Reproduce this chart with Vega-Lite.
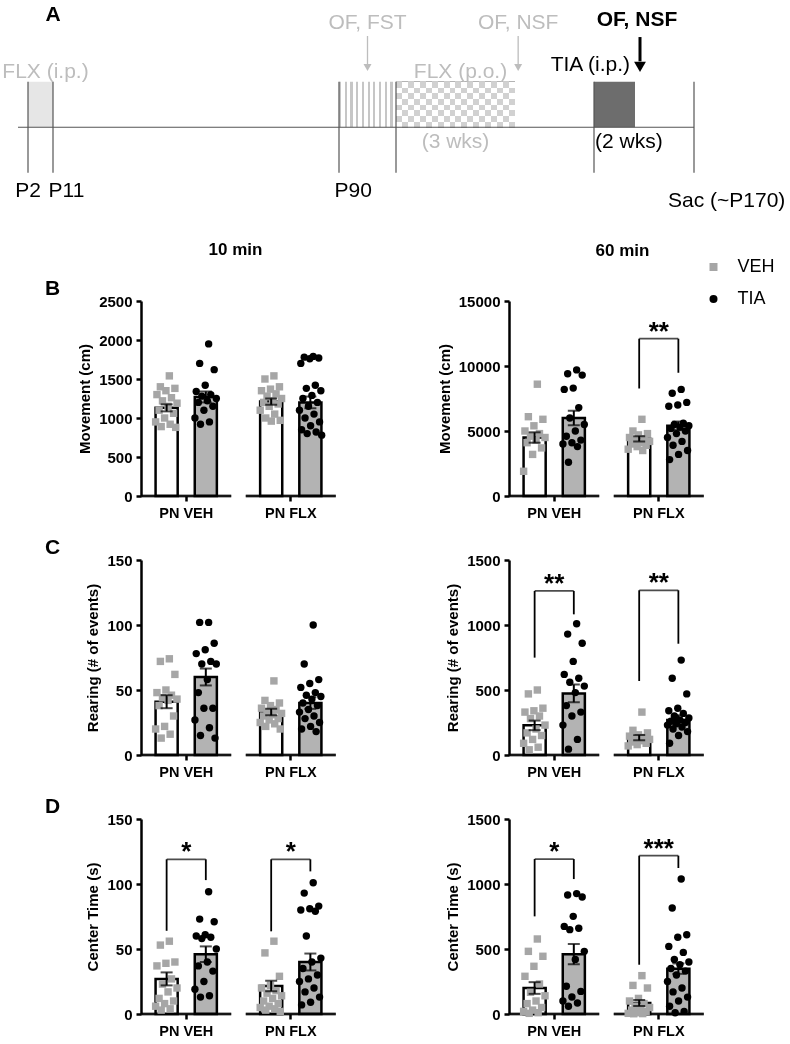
{
"$schema": "https://vega.github.io/schema/vega-lite/v6.json",
"padding": 0,
"background": "white",
"config": {
 "font": "Liberation Sans",
 "view": {"stroke": null},
 "title": {"font": "Liberation Sans", "color": "black"},
 "axis": {"domainColor": "black", "domainWidth": 2.5, "tickColor": "black", "tickWidth": 2.5, "tickSize": 5, "labelColor": "black", "labelFont": "Liberation Sans", "labelFontWeight": "bold", "labelFontSize": 15, "labelPadding": 4, "titleColor": "black", "titleFont": "Liberation Sans", "titleFontWeight": "bold", "titleFontSize": 15, "titlePadding": 6, "grid": false},
 "axisX": {"domain": false, "labelFontSize": 14.5, "labelPadding": 5, "labelAngle": 0},
 "legend": {"labelFont": "Liberation Sans", "labelColor": "black"}
},
"datasets": {
 "tl_periods": [{"kind": "fip", "day": 2, "end": 11}, {"kind": "fst", "day": 90, "end": 104}, {"kind": "fpo", "day": 104, "end": 125}, {"kind": "tia", "day": 150, "end": 164}],
 "tl_ticks": [{"day": 2}, {"day": 11}, {"day": 90}, {"day": 104}, {"day": 150}, {"day": 170}],
 "tl_line": [{"day": 0, "end": 170}],
 "tl_tests": [{"day": 97, "label": "OF, FST", "phase": "past"}, {"day": 126, "label": "OF, NSF", "phase": "past"}, {"day": 165, "label": "OF, NSF", "phase": "current"}],
 "tl_labels": [
  {"day": 6.5, "label": "FLX (i.p.)", "kind": "treat_past"},
  {"day": 114.5, "label": "FLX (p.o.)", "kind": "treat_past"},
  {"day": 164, "label": "TIA (i.p.)", "kind": "treat_now"},
  {"day": 114.5, "label": "(3 wks)", "kind": "dur_past"},
  {"day": 150, "label": "(2 wks)", "kind": "dur_now"},
  {"day": 2, "label": "P2", "kind": "age_c"},
  {"day": 11, "label": "P11", "kind": "age_l"},
  {"day": 90, "label": "P90", "kind": "age_l"},
  {"day": 170, "label": "Sac (~P170)", "kind": "sac"},
  {"day": 11, "label": "A", "kind": "panel"}
 ],
 "bars": [
  {"m": "mov10", "g": "PN VEH", "t": "VEH", "v": 1130, "sem": 45},
  {"m": "mov10", "g": "PN VEH", "t": "TIA", "v": 1270, "sem": 70},
  {"m": "mov10", "g": "PN FLX", "t": "VEH", "v": 1210, "sem": 40},
  {"m": "mov10", "g": "PN FLX", "t": "TIA", "v": 1200, "sem": 75},
  {"m": "mov60", "g": "PN VEH", "t": "VEH", "v": 4500, "sem": 400},
  {"m": "mov60", "g": "PN VEH", "t": "TIA", "v": 6000, "sem": 550},
  {"m": "mov60", "g": "PN FLX", "t": "VEH", "v": 4400, "sem": 200},
  {"m": "mov60", "g": "PN FLX", "t": "TIA", "v": 5400, "sem": 330},
  {"m": "rear10", "g": "PN VEH", "t": "VEH", "v": 41, "sem": 5},
  {"m": "rear10", "g": "PN VEH", "t": "TIA", "v": 60, "sem": 6.5},
  {"m": "rear10", "g": "PN FLX", "t": "VEH", "v": 33, "sem": 2.5},
  {"m": "rear10", "g": "PN FLX", "t": "TIA", "v": 40, "sem": 4.5},
  {"m": "rear60", "g": "PN VEH", "t": "VEH", "v": 228, "sem": 37},
  {"m": "rear60", "g": "PN VEH", "t": "TIA", "v": 474, "sem": 68},
  {"m": "rear60", "g": "PN FLX", "t": "VEH", "v": 133, "sem": 20},
  {"m": "rear60", "g": "PN FLX", "t": "TIA", "v": 269, "sem": 37},
  {"m": "ct10", "g": "PN VEH", "t": "VEH", "v": 27, "sem": 5},
  {"m": "ct10", "g": "PN VEH", "t": "TIA", "v": 46, "sem": 6},
  {"m": "ct10", "g": "PN FLX", "t": "VEH", "v": 21.5, "sem": 4},
  {"m": "ct10", "g": "PN FLX", "t": "TIA", "v": 40, "sem": 6.5},
  {"m": "ct60", "g": "PN VEH", "t": "VEH", "v": 200, "sem": 45},
  {"m": "ct60", "g": "PN VEH", "t": "TIA", "v": 460, "sem": 78},
  {"m": "ct60", "g": "PN FLX", "t": "VEH", "v": 85, "sem": 23},
  {"m": "ct60", "g": "PN FLX", "t": "TIA", "v": 349, "sem": 40}
 ],
 "brk": [
  {"m": "mov60", "g": "PN FLX", "left": 8270, "right": 9480, "top": 12100, "label": "**"},
  {"m": "rear60", "g": "PN VEH", "left": 749, "right": 1082, "top": 1262, "label": "**"},
  {"m": "rear60", "g": "PN FLX", "left": 569, "right": 856, "top": 1267, "label": "**"},
  {"m": "ct10", "g": "PN VEH", "left": 64, "right": 103, "top": 119, "label": "*"},
  {"m": "ct10", "g": "PN FLX", "left": 63.6, "right": 109.7, "top": 119, "label": "*"},
  {"m": "ct60", "g": "PN VEH", "left": 751, "right": 1038, "top": 1192, "label": "*"},
  {"m": "ct60", "g": "PN FLX", "left": 379, "right": 1123, "top": 1218, "label": "***"}
 ],
 "pts": [
  {"m":"mov10","g":"PN VEH","t":"VEH","v":1540},{"m":"mov10","g":"PN VEH","t":"VEH","v":1400},{"m":"mov10","g":"PN VEH","t":"VEH","v":1380},{"m":"mov10","g":"PN VEH","t":"VEH","v":1350},{"m":"mov10","g":"PN VEH","t":"VEH","v":1300},{"m":"mov10","g":"PN VEH","t":"VEH","v":1260},{"m":"mov10","g":"PN VEH","t":"VEH","v":1220},{"m":"mov10","g":"PN VEH","t":"VEH","v":1190},{"m":"mov10","g":"PN VEH","t":"VEH","v":1150},{"m":"mov10","g":"PN VEH","t":"VEH","v":1100},{"m":"mov10","g":"PN VEH","t":"VEH","v":1060},{"m":"mov10","g":"PN VEH","t":"VEH","v":1000},{"m":"mov10","g":"PN VEH","t":"VEH","v":950},{"m":"mov10","g":"PN VEH","t":"VEH","v":920},{"m":"mov10","g":"PN VEH","t":"VEH","v":890},{"m":"mov10","g":"PN VEH","t":"VEH","v":880},
  {"m":"mov10","g":"PN VEH","t":"TIA","v":1950},{"m":"mov10","g":"PN VEH","t":"TIA","v":1700},{"m":"mov10","g":"PN VEH","t":"TIA","v":1620},{"m":"mov10","g":"PN VEH","t":"TIA","v":1420},{"m":"mov10","g":"PN VEH","t":"TIA","v":1340},{"m":"mov10","g":"PN VEH","t":"TIA","v":1300},{"m":"mov10","g":"PN VEH","t":"TIA","v":1280},{"m":"mov10","g":"PN VEH","t":"TIA","v":1250},{"m":"mov10","g":"PN VEH","t":"TIA","v":1220},{"m":"mov10","g":"PN VEH","t":"TIA","v":1200},{"m":"mov10","g":"PN VEH","t":"TIA","v":1150},{"m":"mov10","g":"PN VEH","t":"TIA","v":1100},{"m":"mov10","g":"PN VEH","t":"TIA","v":1000},{"m":"mov10","g":"PN VEH","t":"TIA","v":950},{"m":"mov10","g":"PN VEH","t":"TIA","v":920},
  {"m":"mov10","g":"PN FLX","t":"VEH","v":1540},{"m":"mov10","g":"PN FLX","t":"VEH","v":1500},{"m":"mov10","g":"PN FLX","t":"VEH","v":1400},{"m":"mov10","g":"PN FLX","t":"VEH","v":1370},{"m":"mov10","g":"PN FLX","t":"VEH","v":1350},{"m":"mov10","g":"PN FLX","t":"VEH","v":1310},{"m":"mov10","g":"PN FLX","t":"VEH","v":1280},{"m":"mov10","g":"PN FLX","t":"VEH","v":1250},{"m":"mov10","g":"PN FLX","t":"VEH","v":1220},{"m":"mov10","g":"PN FLX","t":"VEH","v":1200},{"m":"mov10","g":"PN FLX","t":"VEH","v":1180},{"m":"mov10","g":"PN FLX","t":"VEH","v":1150},{"m":"mov10","g":"PN FLX","t":"VEH","v":1100},{"m":"mov10","g":"PN FLX","t":"VEH","v":1050},{"m":"mov10","g":"PN FLX","t":"VEH","v":1000},{"m":"mov10","g":"PN FLX","t":"VEH","v":970},{"m":"mov10","g":"PN FLX","t":"VEH","v":960},
  {"m":"mov10","g":"PN FLX","t":"TIA","v":1790},{"m":"mov10","g":"PN FLX","t":"TIA","v":1780},{"m":"mov10","g":"PN FLX","t":"TIA","v":1770},{"m":"mov10","g":"PN FLX","t":"TIA","v":1760},{"m":"mov10","g":"PN FLX","t":"TIA","v":1700},{"m":"mov10","g":"PN FLX","t":"TIA","v":1420},{"m":"mov10","g":"PN FLX","t":"TIA","v":1380},{"m":"mov10","g":"PN FLX","t":"TIA","v":1350},{"m":"mov10","g":"PN FLX","t":"TIA","v":1290},{"m":"mov10","g":"PN FLX","t":"TIA","v":1250},{"m":"mov10","g":"PN FLX","t":"TIA","v":1200},{"m":"mov10","g":"PN FLX","t":"TIA","v":1150},{"m":"mov10","g":"PN FLX","t":"TIA","v":1100},{"m":"mov10","g":"PN FLX","t":"TIA","v":1050},{"m":"mov10","g":"PN FLX","t":"TIA","v":1000},{"m":"mov10","g":"PN FLX","t":"TIA","v":950},{"m":"mov10","g":"PN FLX","t":"TIA","v":900},{"m":"mov10","g":"PN FLX","t":"TIA","v":850},{"m":"mov10","g":"PN FLX","t":"TIA","v":820},{"m":"mov10","g":"PN FLX","t":"TIA","v":800},{"m":"mov10","g":"PN FLX","t":"TIA","v":780},
  {"m":"mov60","g":"PN VEH","t":"VEH","v":8600},{"m":"mov60","g":"PN VEH","t":"VEH","v":6100},{"m":"mov60","g":"PN VEH","t":"VEH","v":5900},{"m":"mov60","g":"PN VEH","t":"VEH","v":5400},{"m":"mov60","g":"PN VEH","t":"VEH","v":5000},{"m":"mov60","g":"PN VEH","t":"VEH","v":4800},{"m":"mov60","g":"PN VEH","t":"VEH","v":4600},{"m":"mov60","g":"PN VEH","t":"VEH","v":4500},{"m":"mov60","g":"PN VEH","t":"VEH","v":4300},{"m":"mov60","g":"PN VEH","t":"VEH","v":4100},{"m":"mov60","g":"PN VEH","t":"VEH","v":3700},{"m":"mov60","g":"PN VEH","t":"VEH","v":3200},{"m":"mov60","g":"PN VEH","t":"VEH","v":1900},
  {"m":"mov60","g":"PN VEH","t":"TIA","v":9700},{"m":"mov60","g":"PN VEH","t":"TIA","v":9400},{"m":"mov60","g":"PN VEH","t":"TIA","v":9300},{"m":"mov60","g":"PN VEH","t":"TIA","v":8300},{"m":"mov60","g":"PN VEH","t":"TIA","v":8200},{"m":"mov60","g":"PN VEH","t":"TIA","v":6800},{"m":"mov60","g":"PN VEH","t":"TIA","v":6000},{"m":"mov60","g":"PN VEH","t":"TIA","v":5500},{"m":"mov60","g":"PN VEH","t":"TIA","v":5000},{"m":"mov60","g":"PN VEH","t":"TIA","v":4600},{"m":"mov60","g":"PN VEH","t":"TIA","v":4300},{"m":"mov60","g":"PN VEH","t":"TIA","v":4100},{"m":"mov60","g":"PN VEH","t":"TIA","v":4000},{"m":"mov60","g":"PN VEH","t":"TIA","v":3800},{"m":"mov60","g":"PN VEH","t":"TIA","v":2600},
  {"m":"mov60","g":"PN FLX","t":"VEH","v":5900},{"m":"mov60","g":"PN FLX","t":"VEH","v":5000},{"m":"mov60","g":"PN FLX","t":"VEH","v":4800},{"m":"mov60","g":"PN FLX","t":"VEH","v":4700},{"m":"mov60","g":"PN FLX","t":"VEH","v":4500},{"m":"mov60","g":"PN FLX","t":"VEH","v":4400},{"m":"mov60","g":"PN FLX","t":"VEH","v":4300},{"m":"mov60","g":"PN FLX","t":"VEH","v":4200},{"m":"mov60","g":"PN FLX","t":"VEH","v":4100},{"m":"mov60","g":"PN FLX","t":"VEH","v":4000},{"m":"mov60","g":"PN FLX","t":"VEH","v":3900},{"m":"mov60","g":"PN FLX","t":"VEH","v":3800},{"m":"mov60","g":"PN FLX","t":"VEH","v":3600},{"m":"mov60","g":"PN FLX","t":"VEH","v":3500},
  {"m":"mov60","g":"PN FLX","t":"TIA","v":8200},{"m":"mov60","g":"PN FLX","t":"TIA","v":7900},{"m":"mov60","g":"PN FLX","t":"TIA","v":7200},{"m":"mov60","g":"PN FLX","t":"TIA","v":7000},{"m":"mov60","g":"PN FLX","t":"TIA","v":6900},{"m":"mov60","g":"PN FLX","t":"TIA","v":5600},{"m":"mov60","g":"PN FLX","t":"TIA","v":5500},{"m":"mov60","g":"PN FLX","t":"TIA","v":5400},{"m":"mov60","g":"PN FLX","t":"TIA","v":5300},{"m":"mov60","g":"PN FLX","t":"TIA","v":5200},{"m":"mov60","g":"PN FLX","t":"TIA","v":5000},{"m":"mov60","g":"PN FLX","t":"TIA","v":4800},{"m":"mov60","g":"PN FLX","t":"TIA","v":4500},{"m":"mov60","g":"PN FLX","t":"TIA","v":4200},{"m":"mov60","g":"PN FLX","t":"TIA","v":3900},{"m":"mov60","g":"PN FLX","t":"TIA","v":3500},{"m":"mov60","g":"PN FLX","t":"TIA","v":3200},{"m":"mov60","g":"PN FLX","t":"TIA","v":2800},
  {"m":"rear10","g":"PN VEH","t":"VEH","v":74},{"m":"rear10","g":"PN VEH","t":"VEH","v":72},{"m":"rear10","g":"PN VEH","t":"VEH","v":62},{"m":"rear10","g":"PN VEH","t":"VEH","v":50},{"m":"rear10","g":"PN VEH","t":"VEH","v":48},{"m":"rear10","g":"PN VEH","t":"VEH","v":46},{"m":"rear10","g":"PN VEH","t":"VEH","v":44},{"m":"rear10","g":"PN VEH","t":"VEH","v":43},{"m":"rear10","g":"PN VEH","t":"VEH","v":42},{"m":"rear10","g":"PN VEH","t":"VEH","v":38},{"m":"rear10","g":"PN VEH","t":"VEH","v":30},{"m":"rear10","g":"PN VEH","t":"VEH","v":22},{"m":"rear10","g":"PN VEH","t":"VEH","v":20},{"m":"rear10","g":"PN VEH","t":"VEH","v":16},{"m":"rear10","g":"PN VEH","t":"VEH","v":13},
  {"m":"rear10","g":"PN VEH","t":"TIA","v":102},{"m":"rear10","g":"PN VEH","t":"TIA","v":102},{"m":"rear10","g":"PN VEH","t":"TIA","v":86},{"m":"rear10","g":"PN VEH","t":"TIA","v":81},{"m":"rear10","g":"PN VEH","t":"TIA","v":78},{"m":"rear10","g":"PN VEH","t":"TIA","v":72},{"m":"rear10","g":"PN VEH","t":"TIA","v":70},{"m":"rear10","g":"PN VEH","t":"TIA","v":70},{"m":"rear10","g":"PN VEH","t":"TIA","v":58},{"m":"rear10","g":"PN VEH","t":"TIA","v":48},{"m":"rear10","g":"PN VEH","t":"TIA","v":36},{"m":"rear10","g":"PN VEH","t":"TIA","v":36},{"m":"rear10","g":"PN VEH","t":"TIA","v":27},{"m":"rear10","g":"PN VEH","t":"TIA","v":21},{"m":"rear10","g":"PN VEH","t":"TIA","v":15},{"m":"rear10","g":"PN VEH","t":"TIA","v":13},
  {"m":"rear10","g":"PN FLX","t":"VEH","v":57},{"m":"rear10","g":"PN FLX","t":"VEH","v":42},{"m":"rear10","g":"PN FLX","t":"VEH","v":40},{"m":"rear10","g":"PN FLX","t":"VEH","v":38},{"m":"rear10","g":"PN FLX","t":"VEH","v":36},{"m":"rear10","g":"PN FLX","t":"VEH","v":35},{"m":"rear10","g":"PN FLX","t":"VEH","v":33},{"m":"rear10","g":"PN FLX","t":"VEH","v":32},{"m":"rear10","g":"PN FLX","t":"VEH","v":31},{"m":"rear10","g":"PN FLX","t":"VEH","v":30},{"m":"rear10","g":"PN FLX","t":"VEH","v":28},{"m":"rear10","g":"PN FLX","t":"VEH","v":27},{"m":"rear10","g":"PN FLX","t":"VEH","v":25},{"m":"rear10","g":"PN FLX","t":"VEH","v":24},{"m":"rear10","g":"PN FLX","t":"VEH","v":22},{"m":"rear10","g":"PN FLX","t":"VEH","v":20},
  {"m":"rear10","g":"PN FLX","t":"TIA","v":100},{"m":"rear10","g":"PN FLX","t":"TIA","v":70},{"m":"rear10","g":"PN FLX","t":"TIA","v":58},{"m":"rear10","g":"PN FLX","t":"TIA","v":55},{"m":"rear10","g":"PN FLX","t":"TIA","v":52},{"m":"rear10","g":"PN FLX","t":"TIA","v":48},{"m":"rear10","g":"PN FLX","t":"TIA","v":46},{"m":"rear10","g":"PN FLX","t":"TIA","v":45},{"m":"rear10","g":"PN FLX","t":"TIA","v":43},{"m":"rear10","g":"PN FLX","t":"TIA","v":40},{"m":"rear10","g":"PN FLX","t":"TIA","v":38},{"m":"rear10","g":"PN FLX","t":"TIA","v":35},{"m":"rear10","g":"PN FLX","t":"TIA","v":33},{"m":"rear10","g":"PN FLX","t":"TIA","v":30},{"m":"rear10","g":"PN FLX","t":"TIA","v":28},{"m":"rear10","g":"PN FLX","t":"TIA","v":25},{"m":"rear10","g":"PN FLX","t":"TIA","v":22},{"m":"rear10","g":"PN FLX","t":"TIA","v":20},{"m":"rear10","g":"PN FLX","t":"TIA","v":18},
  {"m":"rear60","g":"PN VEH","t":"VEH","v":500},{"m":"rear60","g":"PN VEH","t":"VEH","v":470},{"m":"rear60","g":"PN VEH","t":"VEH","v":360},{"m":"rear60","g":"PN VEH","t":"VEH","v":340},{"m":"rear60","g":"PN VEH","t":"VEH","v":330},{"m":"rear60","g":"PN VEH","t":"VEH","v":300},{"m":"rear60","g":"PN VEH","t":"VEH","v":280},{"m":"rear60","g":"PN VEH","t":"VEH","v":230},{"m":"rear60","g":"PN VEH","t":"VEH","v":200},{"m":"rear60","g":"PN VEH","t":"VEH","v":170},{"m":"rear60","g":"PN VEH","t":"VEH","v":150},{"m":"rear60","g":"PN VEH","t":"VEH","v":120},{"m":"rear60","g":"PN VEH","t":"VEH","v":90},{"m":"rear60","g":"PN VEH","t":"VEH","v":60},{"m":"rear60","g":"PN VEH","t":"VEH","v":40},
  {"m":"rear60","g":"PN VEH","t":"TIA","v":1010},{"m":"rear60","g":"PN VEH","t":"TIA","v":930},{"m":"rear60","g":"PN VEH","t":"TIA","v":860},{"m":"rear60","g":"PN VEH","t":"TIA","v":720},{"m":"rear60","g":"PN VEH","t":"TIA","v":620},{"m":"rear60","g":"PN VEH","t":"TIA","v":590},{"m":"rear60","g":"PN VEH","t":"TIA","v":560},{"m":"rear60","g":"PN VEH","t":"TIA","v":530},{"m":"rear60","g":"PN VEH","t":"TIA","v":480},{"m":"rear60","g":"PN VEH","t":"TIA","v":380},{"m":"rear60","g":"PN VEH","t":"TIA","v":330},{"m":"rear60","g":"PN VEH","t":"TIA","v":300},{"m":"rear60","g":"PN VEH","t":"TIA","v":230},{"m":"rear60","g":"PN VEH","t":"TIA","v":120},{"m":"rear60","g":"PN VEH","t":"TIA","v":45},
  {"m":"rear60","g":"PN FLX","t":"VEH","v":330},{"m":"rear60","g":"PN FLX","t":"VEH","v":190},{"m":"rear60","g":"PN FLX","t":"VEH","v":170},{"m":"rear60","g":"PN FLX","t":"VEH","v":155},{"m":"rear60","g":"PN FLX","t":"VEH","v":145},{"m":"rear60","g":"PN FLX","t":"VEH","v":135},{"m":"rear60","g":"PN FLX","t":"VEH","v":125},{"m":"rear60","g":"PN FLX","t":"VEH","v":120},{"m":"rear60","g":"PN FLX","t":"VEH","v":110},{"m":"rear60","g":"PN FLX","t":"VEH","v":100},{"m":"rear60","g":"PN FLX","t":"VEH","v":90},{"m":"rear60","g":"PN FLX","t":"VEH","v":80},{"m":"rear60","g":"PN FLX","t":"VEH","v":70},
  {"m":"rear60","g":"PN FLX","t":"TIA","v":730},{"m":"rear60","g":"PN FLX","t":"TIA","v":590},{"m":"rear60","g":"PN FLX","t":"TIA","v":470},{"m":"rear60","g":"PN FLX","t":"TIA","v":360},{"m":"rear60","g":"PN FLX","t":"TIA","v":340},{"m":"rear60","g":"PN FLX","t":"TIA","v":320},{"m":"rear60","g":"PN FLX","t":"TIA","v":300},{"m":"rear60","g":"PN FLX","t":"TIA","v":285},{"m":"rear60","g":"PN FLX","t":"TIA","v":270},{"m":"rear60","g":"PN FLX","t":"TIA","v":260},{"m":"rear60","g":"PN FLX","t":"TIA","v":250},{"m":"rear60","g":"PN FLX","t":"TIA","v":240},{"m":"rear60","g":"PN FLX","t":"TIA","v":230},{"m":"rear60","g":"PN FLX","t":"TIA","v":215},{"m":"rear60","g":"PN FLX","t":"TIA","v":200},{"m":"rear60","g":"PN FLX","t":"TIA","v":180},{"m":"rear60","g":"PN FLX","t":"TIA","v":150},{"m":"rear60","g":"PN FLX","t":"TIA","v":90},
  {"m":"ct10","g":"PN VEH","t":"VEH","v":56},{"m":"ct10","g":"PN VEH","t":"VEH","v":53},{"m":"ct10","g":"PN VEH","t":"VEH","v":40},{"m":"ct10","g":"PN VEH","t":"VEH","v":39},{"m":"ct10","g":"PN VEH","t":"VEH","v":37},{"m":"ct10","g":"PN VEH","t":"VEH","v":27},{"m":"ct10","g":"PN VEH","t":"VEH","v":23},{"m":"ct10","g":"PN VEH","t":"VEH","v":20},{"m":"ct10","g":"PN VEH","t":"VEH","v":17},{"m":"ct10","g":"PN VEH","t":"VEH","v":12},{"m":"ct10","g":"PN VEH","t":"VEH","v":10},{"m":"ct10","g":"PN VEH","t":"VEH","v":8},{"m":"ct10","g":"PN VEH","t":"VEH","v":6},{"m":"ct10","g":"PN VEH","t":"VEH","v":4},{"m":"ct10","g":"PN VEH","t":"VEH","v":3},
  {"m":"ct10","g":"PN VEH","t":"TIA","v":94},{"m":"ct10","g":"PN VEH","t":"TIA","v":73},{"m":"ct10","g":"PN VEH","t":"TIA","v":71},{"m":"ct10","g":"PN VEH","t":"TIA","v":61},{"m":"ct10","g":"PN VEH","t":"TIA","v":60},{"m":"ct10","g":"PN VEH","t":"TIA","v":59},{"m":"ct10","g":"PN VEH","t":"TIA","v":58},{"m":"ct10","g":"PN VEH","t":"TIA","v":50},{"m":"ct10","g":"PN VEH","t":"TIA","v":40},{"m":"ct10","g":"PN VEH","t":"TIA","v":37},{"m":"ct10","g":"PN VEH","t":"TIA","v":33},{"m":"ct10","g":"PN VEH","t":"TIA","v":25},{"m":"ct10","g":"PN VEH","t":"TIA","v":19},{"m":"ct10","g":"PN VEH","t":"TIA","v":14},{"m":"ct10","g":"PN VEH","t":"TIA","v":13},
  {"m":"ct10","g":"PN FLX","t":"VEH","v":56},{"m":"ct10","g":"PN FLX","t":"VEH","v":47},{"m":"ct10","g":"PN FLX","t":"VEH","v":29},{"m":"ct10","g":"PN FLX","t":"VEH","v":22},{"m":"ct10","g":"PN FLX","t":"VEH","v":20},{"m":"ct10","g":"PN FLX","t":"VEH","v":18},{"m":"ct10","g":"PN FLX","t":"VEH","v":16},{"m":"ct10","g":"PN FLX","t":"VEH","v":14},{"m":"ct10","g":"PN FLX","t":"VEH","v":12},{"m":"ct10","g":"PN FLX","t":"VEH","v":10},{"m":"ct10","g":"PN FLX","t":"VEH","v":8},{"m":"ct10","g":"PN FLX","t":"VEH","v":6},{"m":"ct10","g":"PN FLX","t":"VEH","v":5},{"m":"ct10","g":"PN FLX","t":"VEH","v":4},{"m":"ct10","g":"PN FLX","t":"VEH","v":3},{"m":"ct10","g":"PN FLX","t":"VEH","v":2},
  {"m":"ct10","g":"PN FLX","t":"TIA","v":101},{"m":"ct10","g":"PN FLX","t":"TIA","v":93},{"m":"ct10","g":"PN FLX","t":"TIA","v":83},{"m":"ct10","g":"PN FLX","t":"TIA","v":81},{"m":"ct10","g":"PN FLX","t":"TIA","v":80},{"m":"ct10","g":"PN FLX","t":"TIA","v":79},{"m":"ct10","g":"PN FLX","t":"TIA","v":60},{"m":"ct10","g":"PN FLX","t":"TIA","v":43},{"m":"ct10","g":"PN FLX","t":"TIA","v":40},{"m":"ct10","g":"PN FLX","t":"TIA","v":35},{"m":"ct10","g":"PN FLX","t":"TIA","v":30},{"m":"ct10","g":"PN FLX","t":"TIA","v":27},{"m":"ct10","g":"PN FLX","t":"TIA","v":25},{"m":"ct10","g":"PN FLX","t":"TIA","v":20},{"m":"ct10","g":"PN FLX","t":"TIA","v":17},{"m":"ct10","g":"PN FLX","t":"TIA","v":13},{"m":"ct10","g":"PN FLX","t":"TIA","v":9},{"m":"ct10","g":"PN FLX","t":"TIA","v":7},
  {"m":"ct60","g":"PN VEH","t":"VEH","v":577},{"m":"ct60","g":"PN VEH","t":"VEH","v":482},{"m":"ct60","g":"PN VEH","t":"VEH","v":444},{"m":"ct60","g":"PN VEH","t":"VEH","v":367},{"m":"ct60","g":"PN VEH","t":"VEH","v":290},{"m":"ct60","g":"PN VEH","t":"VEH","v":231},{"m":"ct60","g":"PN VEH","t":"VEH","v":167},{"m":"ct60","g":"PN VEH","t":"VEH","v":140},{"m":"ct60","g":"PN VEH","t":"VEH","v":100},{"m":"ct60","g":"PN VEH","t":"VEH","v":80},{"m":"ct60","g":"PN VEH","t":"VEH","v":50},{"m":"ct60","g":"PN VEH","t":"VEH","v":30},{"m":"ct60","g":"PN VEH","t":"VEH","v":20},{"m":"ct60","g":"PN VEH","t":"VEH","v":10},{"m":"ct60","g":"PN VEH","t":"VEH","v":5},
  {"m":"ct60","g":"PN VEH","t":"TIA","v":926},{"m":"ct60","g":"PN VEH","t":"TIA","v":915},{"m":"ct60","g":"PN VEH","t":"TIA","v":900},{"m":"ct60","g":"PN VEH","t":"TIA","v":751},{"m":"ct60","g":"PN VEH","t":"TIA","v":674},{"m":"ct60","g":"PN VEH","t":"TIA","v":660},{"m":"ct60","g":"PN VEH","t":"TIA","v":649},{"m":"ct60","g":"PN VEH","t":"TIA","v":482},{"m":"ct60","g":"PN VEH","t":"TIA","v":420},{"m":"ct60","g":"PN VEH","t":"TIA","v":213},{"m":"ct60","g":"PN VEH","t":"TIA","v":174},{"m":"ct60","g":"PN VEH","t":"TIA","v":131},{"m":"ct60","g":"PN VEH","t":"TIA","v":100},{"m":"ct60","g":"PN VEH","t":"TIA","v":85},{"m":"ct60","g":"PN VEH","t":"TIA","v":60},
  {"m":"ct60","g":"PN FLX","t":"VEH","v":295},{"m":"ct60","g":"PN FLX","t":"VEH","v":220},{"m":"ct60","g":"PN FLX","t":"VEH","v":200},{"m":"ct60","g":"PN FLX","t":"VEH","v":120},{"m":"ct60","g":"PN FLX","t":"VEH","v":100},{"m":"ct60","g":"PN FLX","t":"VEH","v":80},{"m":"ct60","g":"PN FLX","t":"VEH","v":60},{"m":"ct60","g":"PN FLX","t":"VEH","v":50},{"m":"ct60","g":"PN FLX","t":"VEH","v":40},{"m":"ct60","g":"PN FLX","t":"VEH","v":30},{"m":"ct60","g":"PN FLX","t":"VEH","v":20},{"m":"ct60","g":"PN FLX","t":"VEH","v":10},{"m":"ct60","g":"PN FLX","t":"VEH","v":5},{"m":"ct60","g":"PN FLX","t":"VEH","v":3},{"m":"ct60","g":"PN FLX","t":"VEH","v":2},
  {"m":"ct60","g":"PN FLX","t":"TIA","v":1038},{"m":"ct60","g":"PN FLX","t":"TIA","v":815},{"m":"ct60","g":"PN FLX","t":"TIA","v":610},{"m":"ct60","g":"PN FLX","t":"TIA","v":590},{"m":"ct60","g":"PN FLX","t":"TIA","v":520},{"m":"ct60","g":"PN FLX","t":"TIA","v":474},{"m":"ct60","g":"PN FLX","t":"TIA","v":420},{"m":"ct60","g":"PN FLX","t":"TIA","v":400},{"m":"ct60","g":"PN FLX","t":"TIA","v":380},{"m":"ct60","g":"PN FLX","t":"TIA","v":350},{"m":"ct60","g":"PN FLX","t":"TIA","v":330},{"m":"ct60","g":"PN FLX","t":"TIA","v":300},{"m":"ct60","g":"PN FLX","t":"TIA","v":250},{"m":"ct60","g":"PN FLX","t":"TIA","v":200},{"m":"ct60","g":"PN FLX","t":"TIA","v":170},{"m":"ct60","g":"PN FLX","t":"TIA","v":130},{"m":"ct60","g":"PN FLX","t":"TIA","v":100},{"m":"ct60","g":"PN FLX","t":"TIA","v":60},{"m":"ct60","g":"PN FLX","t":"TIA","v":20},{"m":"ct60","g":"PN FLX","t":"TIA","v":10}
 ]
},
"vconcat": [
 {
  "width": 790, "height": 200,
  "encoding": {"x": {"field": "day", "type": "quantitative", "scale": {"type": "linear", "domain": [0, 2, 11, 90, 104, 125, 150, 164, 165, 170], "range": [18, 28, 53, 339, 396, 515, 594, 635, 640, 694], "nice": false, "zero": false}, "axis": null}},
  "layer": [
   {"data": {"name": "tl_periods"}, "transform": [{"filter": "datum.kind === 'fip'"}], "mark": {"type": "rect", "fill": "#e6e6e6"}, "encoding": {"x2": {"field": "end"}, "y": {"datum": 0, "type": "quantitative", "scale": {"domain": [-1.6, 2.8], "nice": false, "zero": false}, "axis": null}, "y2": {"datum": 1}}},
   {"data": {"name": "tl_periods"}, "transform": [{"filter": "datum.kind === 'fst'"}], "mark": {"type": "rect", "fill": {"gradient": "linear", "x1": 0, "y1": 0, "x2": 1, "y2": 0, "stops": [{"offset":0,"color":"#c6c6c6"},{"offset":0.04,"color":"#c6c6c6"},{"offset":0.04,"color":"#ffffff"},{"offset":0.1,"color":"#ffffff"},{"offset":0.1,"color":"#c6c6c6"},{"offset":0.14,"color":"#c6c6c6"},{"offset":0.14,"color":"#ffffff"},{"offset":0.2,"color":"#ffffff"},{"offset":0.2,"color":"#c6c6c6"},{"offset":0.24,"color":"#c6c6c6"},{"offset":0.24,"color":"#ffffff"},{"offset":0.3,"color":"#ffffff"},{"offset":0.3,"color":"#c6c6c6"},{"offset":0.34,"color":"#c6c6c6"},{"offset":0.34,"color":"#ffffff"},{"offset":0.4,"color":"#ffffff"},{"offset":0.4,"color":"#c6c6c6"},{"offset":0.44,"color":"#c6c6c6"},{"offset":0.44,"color":"#ffffff"},{"offset":0.5,"color":"#ffffff"},{"offset":0.5,"color":"#c6c6c6"},{"offset":0.54,"color":"#c6c6c6"},{"offset":0.54,"color":"#ffffff"},{"offset":0.6,"color":"#ffffff"},{"offset":0.6,"color":"#c6c6c6"},{"offset":0.64,"color":"#c6c6c6"},{"offset":0.64,"color":"#ffffff"},{"offset":0.7,"color":"#ffffff"},{"offset":0.7,"color":"#c6c6c6"},{"offset":0.74,"color":"#c6c6c6"},{"offset":0.74,"color":"#ffffff"},{"offset":0.8,"color":"#ffffff"},{"offset":0.8,"color":"#c6c6c6"},{"offset":0.84,"color":"#c6c6c6"},{"offset":0.84,"color":"#ffffff"},{"offset":0.9,"color":"#ffffff"},{"offset":0.9,"color":"#c6c6c6"},{"offset":0.94,"color":"#c6c6c6"},{"offset":0.94,"color":"#ffffff"},{"offset":1,"color":"#ffffff"}]}}, "encoding": {"x2": {"field": "end"}, "y": {"datum": 0, "type": "quantitative", "scale": {"domain": [-1.6, 2.8], "nice": false, "zero": false}, "axis": null}, "y2": {"datum": 1}}},
   {"data": {"name": "tl_periods"}, "transform": [{"filter": "datum.kind === 'fpo'"}], "mark": {"type": "rect", "fill": {"gradient": "linear", "x1": 0, "y1": 0, "x2": 0, "y2": 1, "stops": [{"offset":0,"color":"#000000"},{"offset":0.125,"color":"#000000"},{"offset":0.125,"color":"#ffffff"},{"offset":0.25,"color":"#ffffff"},{"offset":0.25,"color":"#000000"},{"offset":0.375,"color":"#000000"},{"offset":0.375,"color":"#ffffff"},{"offset":0.5,"color":"#ffffff"},{"offset":0.5,"color":"#000000"},{"offset":0.625,"color":"#000000"},{"offset":0.625,"color":"#ffffff"},{"offset":0.75,"color":"#ffffff"},{"offset":0.75,"color":"#000000"},{"offset":0.875,"color":"#000000"},{"offset":0.875,"color":"#ffffff"},{"offset":1,"color":"#ffffff"}]}}, "encoding": {"x2": {"field": "end"}, "y": {"datum": 0, "type": "quantitative", "scale": {"domain": [-1.6, 2.8], "nice": false, "zero": false}, "axis": null}, "y2": {"datum": 1}}},
   {"data": {"name": "tl_periods"}, "transform": [{"filter": "datum.kind === 'fpo'"}], "mark": {"type": "rect", "blend": "difference", "fill": {"gradient": "linear", "x1": 0, "y1": 0, "x2": 1, "y2": 0, "stops": [{"offset":0,"color":"#000000"},{"offset":0.05,"color":"#000000"},{"offset":0.05,"color":"#ffffff"},{"offset":0.1,"color":"#ffffff"},{"offset":0.1,"color":"#000000"},{"offset":0.15,"color":"#000000"},{"offset":0.15,"color":"#ffffff"},{"offset":0.2,"color":"#ffffff"},{"offset":0.2,"color":"#000000"},{"offset":0.25,"color":"#000000"},{"offset":0.25,"color":"#ffffff"},{"offset":0.3,"color":"#ffffff"},{"offset":0.3,"color":"#000000"},{"offset":0.35,"color":"#000000"},{"offset":0.35,"color":"#ffffff"},{"offset":0.4,"color":"#ffffff"},{"offset":0.4,"color":"#000000"},{"offset":0.45,"color":"#000000"},{"offset":0.45,"color":"#ffffff"},{"offset":0.5,"color":"#ffffff"},{"offset":0.5,"color":"#000000"},{"offset":0.55,"color":"#000000"},{"offset":0.55,"color":"#ffffff"},{"offset":0.6,"color":"#ffffff"},{"offset":0.6,"color":"#000000"},{"offset":0.65,"color":"#000000"},{"offset":0.65,"color":"#ffffff"},{"offset":0.7,"color":"#ffffff"},{"offset":0.7,"color":"#000000"},{"offset":0.75,"color":"#000000"},{"offset":0.75,"color":"#ffffff"},{"offset":0.8,"color":"#ffffff"},{"offset":0.8,"color":"#000000"},{"offset":0.85,"color":"#000000"},{"offset":0.85,"color":"#ffffff"},{"offset":0.9,"color":"#ffffff"},{"offset":0.9,"color":"#000000"},{"offset":0.95,"color":"#000000"},{"offset":0.95,"color":"#ffffff"},{"offset":1,"color":"#ffffff"}]}}, "encoding": {"x2": {"field": "end"}, "y": {"datum": 0, "type": "quantitative", "scale": {"domain": [-1.6, 2.8], "nice": false, "zero": false}, "axis": null}, "y2": {"datum": 1}}},
   {"data": {"name": "tl_periods"}, "transform": [{"filter": "datum.kind === 'fpo'"}], "mark": {"type": "rect", "fill": "#ffffff", "opacity": 0.82}, "encoding": {"x2": {"field": "end"}, "y": {"datum": 0, "type": "quantitative", "scale": {"domain": [-1.6, 2.8], "nice": false, "zero": false}, "axis": null}, "y2": {"datum": 1}}},
   {"data": {"name": "tl_periods"}, "transform": [{"filter": "datum.kind === 'tia'"}], "mark": {"type": "rect", "fill": "#6d6d6d"}, "encoding": {"x2": {"field": "end"}, "y": {"datum": 0, "type": "quantitative", "scale": {"domain": [-1.6, 2.8], "nice": false, "zero": false}, "axis": null}, "y2": {"datum": 1}}},
   {"data": {"name": "tl_ticks"}, "mark": {"type": "rule", "color": "#555555", "strokeWidth": 1.2}, "encoding": {"y": {"datum": -1, "type": "quantitative", "scale": {"domain": [-1.6, 2.8], "nice": false, "zero": false}, "axis": null}, "y2": {"datum": 1}}},
   {"data": {"name": "tl_line"}, "mark": {"type": "rule", "color": "#555555", "strokeWidth": 1.2}, "encoding": {"x2": {"field": "end"}, "y": {"datum": 0, "type": "quantitative", "scale": {"domain": [-1.6, 2.8], "nice": false, "zero": false}, "axis": null}}},
   {"data": {"name": "tl_tests"}, "transform": [{"filter": "datum.phase === 'past'"}], "mark": {"type": "rule", "color": "#bdbdbd", "strokeWidth": 1.3}, "encoding": {"y": {"datum": 2.008, "type": "quantitative", "scale": {"domain": [-1.6, 2.8], "nice": false, "zero": false}, "axis": null}, "y2": {"datum": 1.38}}},
   {"data": {"name": "tl_tests"}, "transform": [{"filter": "datum.phase === 'past'"}], "mark": {"type": "point", "shape": "triangle-down", "filled": true, "size": 64, "color": "#bdbdbd", "opacity": 1}, "encoding": {"y": {"datum": 1.315, "type": "quantitative", "scale": {"domain": [-1.6, 2.8], "nice": false, "zero": false}, "axis": null}}},
   {"data": {"name": "tl_tests"}, "transform": [{"filter": "datum.phase === 'current'"}], "mark": {"type": "rule", "color": "#000000", "strokeWidth": 3}, "encoding": {"y": {"datum": 1.985, "type": "quantitative", "scale": {"domain": [-1.6, 2.8], "nice": false, "zero": false}, "axis": null}, "y2": {"datum": 1.45}}},
   {"data": {"name": "tl_tests"}, "transform": [{"filter": "datum.phase === 'current'"}], "mark": {"type": "point", "shape": "triangle-down", "filled": true, "size": 140, "color": "#000000", "opacity": 1}, "encoding": {"y": {"datum": 1.33, "type": "quantitative", "scale": {"domain": [-1.6, 2.8], "nice": false, "zero": false}, "axis": null}}},
   {"data": {"name": "tl_tests"}, "transform": [{"filter": "datum.phase === 'past'"}], "mark": {"type": "text", "fontSize": 21, "color": "#bdbdbd", "baseline": "middle", "align": "center"}, "encoding": {"text": {"field": "label"}, "y": {"datum": 2.294, "type": "quantitative", "scale": {"domain": [-1.6, 2.8], "nice": false, "zero": false}, "axis": null}}},
   {"data": {"name": "tl_tests"}, "transform": [{"filter": "datum.phase === 'current'"}], "mark": {"type": "text", "fontSize": 21, "fontWeight": "bold", "color": "#000000", "baseline": "middle", "align": "center", "dx": -3}, "encoding": {"text": {"field": "label"}, "y": {"datum": 2.36, "type": "quantitative", "scale": {"domain": [-1.6, 2.8], "nice": false, "zero": false}, "axis": null}}},
   {"data": {"name": "tl_labels"}, "transform": [{"filter": "datum.kind === 'treat_past'"}], "mark": {"type": "text", "fontSize": 21, "color": "#bdbdbd", "baseline": "middle", "align": "center", "dx": 5}, "encoding": {"text": {"field": "label"}, "y": {"datum": 1.21, "type": "quantitative", "scale": {"domain": [-1.6, 2.8], "nice": false, "zero": false}, "axis": null}}},
   {"data": {"name": "tl_labels"}, "transform": [{"filter": "datum.kind === 'treat_now'"}], "mark": {"type": "text", "fontSize": 21, "color": "#000000", "baseline": "middle", "align": "right", "dx": -5}, "encoding": {"text": {"field": "label"}, "y": {"datum": 1.37, "type": "quantitative", "scale": {"domain": [-1.6, 2.8], "nice": false, "zero": false}, "axis": null}}},
   {"data": {"name": "tl_labels"}, "transform": [{"filter": "datum.kind === 'dur_past'"}], "mark": {"type": "text", "fontSize": 21, "color": "#bdbdbd", "baseline": "middle", "align": "center"}, "encoding": {"text": {"field": "label"}, "y": {"datum": -0.324, "type": "quantitative", "scale": {"domain": [-1.6, 2.8], "nice": false, "zero": false}, "axis": null}}},
   {"data": {"name": "tl_labels"}, "transform": [{"filter": "datum.kind === 'dur_now'"}], "mark": {"type": "text", "fontSize": 21, "color": "#000000", "baseline": "middle", "align": "left", "dx": 1}, "encoding": {"text": {"field": "label"}, "y": {"datum": -0.324, "type": "quantitative", "scale": {"domain": [-1.6, 2.8], "nice": false, "zero": false}, "axis": null}}},
   {"data": {"name": "tl_labels"}, "transform": [{"filter": "datum.kind === 'age_c'"}], "mark": {"type": "text", "fontSize": 21, "color": "#000000", "baseline": "middle", "align": "center"}, "encoding": {"text": {"field": "label"}, "y": {"datum": -1.402, "type": "quantitative", "scale": {"domain": [-1.6, 2.8], "nice": false, "zero": false}, "axis": null}}},
   {"data": {"name": "tl_labels"}, "transform": [{"filter": "datum.kind === 'age_l'"}], "mark": {"type": "text", "fontSize": 21, "color": "#000000", "baseline": "middle", "align": "left", "dx": -4.5}, "encoding": {"text": {"field": "label"}, "y": {"datum": -1.402, "type": "quantitative", "scale": {"domain": [-1.6, 2.8], "nice": false, "zero": false}, "axis": null}}},
   {"data": {"name": "tl_labels"}, "transform": [{"filter": "datum.kind === 'sac'"}], "mark": {"type": "text", "fontSize": 21, "color": "#000000", "baseline": "middle", "align": "left", "dx": -26}, "encoding": {"text": {"field": "label"}, "y": {"datum": -1.62, "type": "quantitative", "scale": {"domain": [-1.6, 2.8], "nice": false, "zero": false}, "axis": null}}},
   {"data": {"name": "tl_labels"}, "transform": [{"filter": "datum.kind === 'panel'"}], "mark": {"type": "text", "fontSize": 21, "fontWeight": "bold", "color": "#000000", "baseline": "middle", "align": "center"}, "encoding": {"text": {"field": "label"}, "y": {"datum": 2.47, "type": "quantitative", "scale": {"domain": [-1.6, 2.8], "nice": false, "zero": false}, "axis": null}}}
  ]
 },
 {
  "hconcat": [
   {"width": 141, "height": 10, "data": {"values": [{"a": 1}]}, "mark": {"type": "point", "opacity": 0, "size": 0}, "encoding": {}},
   {
    "hconcat": [
     {
      "vconcat": [
       {
        "width": 195, "height": 195,
        "title": {"text": "B", "anchor": "start", "frame": "group", "dx": -96, "fontSize": 21, "fontWeight": "bold", "offset": -5},
        "resolve": {"scale": {"xOffset": "independent"}},
        "encoding": {
         "x": {"field": "g", "type": "nominal", "scale": {"domain": ["PN VEH", "PN FLX"], "paddingInner": 0.183, "paddingOuter": 0.024}, "axis": {"title": null}},
         "y": {"field": "v", "type": "quantitative", "stack": null, "scale": {"domain": [0, 2500], "nice": false}, "axis": {"title": "Movement (cm)", "values": [0, 500, 1000, 1500, 2000, 2500], "format": "d"}}
        },
        "layer": [
         {"data": {"name": "bars"}, "transform": [{"filter": "datum.m === 'mov10'"}], "mark": {"type": "bar", "stroke": "black", "strokeWidth": 2.5}, "encoding": {"xOffset": {"field": "t", "type": "nominal", "scale": {"domain": ["VEH", "TIA"], "paddingInner": 0.436, "paddingOuter": 0.308}}, "fill": {"field": "t", "type": "nominal", "scale": {"domain": ["TIA", "VEH"], "range": ["#b3b3b3", "#ffffff"]}, "legend": null}}},
         {"data": {"name": "bars"}, "transform": [{"filter": "datum.m === 'mov10'"}], "mark": {"type": "tick", "orient": "horizontal", "size": 90, "thickness": 2.5, "color": "black"}, "encoding": {"y": {"datum": 0}}},
         {"data": {"name": "pts"}, "transform": [{"filter": "datum.m === 'mov10'"}, {"window": [{"op": "row_number", "as": "rn"}], "groupby": ["g", "t"], "sort": [{"field": "v", "order": "descending"}]}, {"calculate": "(datum.t === 'VEH' ? -0.46 : 0.46) + (((datum.rn * 0.618034) % 1) - 0.5) * 0.55", "as": "jx"}], "mark": {"type": "point", "filled": true, "size": 55, "opacity": 1}, "encoding": {"xOffset": {"field": "jx", "type": "quantitative", "scale": {"domain": [-1, 1]}}, "shape": {"field": "t", "type": "nominal", "scale": {"domain": ["VEH", "TIA"], "range": ["square", "circle"]}}, "color": {"field": "t", "type": "nominal", "scale": {"domain": ["VEH", "TIA"], "range": ["#a6a6a6", "#000000"]}}}},
         {"data": {"name": "bars"}, "transform": [{"filter": "datum.m === 'mov10'"}, {"calculate": "datum.v - datum.sem", "as": "lo"}, {"calculate": "datum.v + datum.sem", "as": "hi"}], "mark": {"type": "rule", "color": "black", "strokeWidth": 2}, "encoding": {"xOffset": {"field": "t", "type": "nominal", "scale": {"domain": ["VEH", "TIA"], "paddingInner": 0.436, "paddingOuter": 0.308}}, "y": {"field": "lo", "type": "quantitative"}, "y2": {"field": "hi"}}},
         {"data": {"name": "bars"}, "transform": [{"filter": "datum.m === 'mov10'"}, {"calculate": "datum.v - datum.sem", "as": "lo"}, {"calculate": "datum.v + datum.sem", "as": "hi"}, {"fold": ["lo", "hi"], "as": ["k", "v"]}], "mark": {"type": "tick", "orient": "horizontal", "size": 12, "thickness": 2, "color": "black"}, "encoding": {"xOffset": {"field": "t", "type": "nominal", "scale": {"domain": ["VEH", "TIA"], "paddingInner": 0.436, "paddingOuter": 0.308}}}}
        ]
       },
       {
        "width": 195, "height": 195,
        "title": {"text": "C", "anchor": "start", "frame": "group", "dx": -96, "fontSize": 21, "fontWeight": "bold", "offset": -5},
        "resolve": {"scale": {"xOffset": "independent"}},
        "encoding": {
         "x": {"field": "g", "type": "nominal", "scale": {"domain": ["PN VEH", "PN FLX"], "paddingInner": 0.183, "paddingOuter": 0.024}, "axis": {"title": null}},
         "y": {"field": "v", "type": "quantitative", "stack": null, "scale": {"domain": [0, 150], "nice": false}, "axis": {"title": "Rearing (# of events)", "values": [0, 50, 100, 150], "format": "d"}}
        },
        "layer": [
         {"data": {"name": "bars"}, "transform": [{"filter": "datum.m === 'rear10'"}], "mark": {"type": "bar", "stroke": "black", "strokeWidth": 2.5}, "encoding": {"xOffset": {"field": "t", "type": "nominal", "scale": {"domain": ["VEH", "TIA"], "paddingInner": 0.436, "paddingOuter": 0.308}}, "fill": {"field": "t", "type": "nominal", "scale": {"domain": ["TIA", "VEH"], "range": ["#b3b3b3", "#ffffff"]}, "legend": null}}},
         {"data": {"name": "bars"}, "transform": [{"filter": "datum.m === 'rear10'"}], "mark": {"type": "tick", "orient": "horizontal", "size": 90, "thickness": 2.5, "color": "black"}, "encoding": {"y": {"datum": 0}}},
         {"data": {"name": "pts"}, "transform": [{"filter": "datum.m === 'rear10'"}, {"window": [{"op": "row_number", "as": "rn"}], "groupby": ["g", "t"], "sort": [{"field": "v", "order": "descending"}]}, {"calculate": "(datum.t === 'VEH' ? -0.46 : 0.46) + (((datum.rn * 0.618034) % 1) - 0.5) * 0.55", "as": "jx"}], "mark": {"type": "point", "filled": true, "size": 55, "opacity": 1}, "encoding": {"xOffset": {"field": "jx", "type": "quantitative", "scale": {"domain": [-1, 1]}}, "shape": {"field": "t", "type": "nominal", "scale": {"domain": ["VEH", "TIA"], "range": ["square", "circle"]}}, "color": {"field": "t", "type": "nominal", "scale": {"domain": ["VEH", "TIA"], "range": ["#a6a6a6", "#000000"]}}}},
         {"data": {"name": "bars"}, "transform": [{"filter": "datum.m === 'rear10'"}, {"calculate": "datum.v - datum.sem", "as": "lo"}, {"calculate": "datum.v + datum.sem", "as": "hi"}], "mark": {"type": "rule", "color": "black", "strokeWidth": 2}, "encoding": {"xOffset": {"field": "t", "type": "nominal", "scale": {"domain": ["VEH", "TIA"], "paddingInner": 0.436, "paddingOuter": 0.308}}, "y": {"field": "lo", "type": "quantitative"}, "y2": {"field": "hi"}}},
         {"data": {"name": "bars"}, "transform": [{"filter": "datum.m === 'rear10'"}, {"calculate": "datum.v - datum.sem", "as": "lo"}, {"calculate": "datum.v + datum.sem", "as": "hi"}, {"fold": ["lo", "hi"], "as": ["k", "v"]}], "mark": {"type": "tick", "orient": "horizontal", "size": 12, "thickness": 2, "color": "black"}, "encoding": {"xOffset": {"field": "t", "type": "nominal", "scale": {"domain": ["VEH", "TIA"], "paddingInner": 0.436, "paddingOuter": 0.308}}}}
        ]
       },
       {
        "width": 195, "height": 195,
        "title": {"text": "D", "anchor": "start", "frame": "group", "dx": -96, "fontSize": 21, "fontWeight": "bold", "offset": -5},
        "resolve": {"scale": {"xOffset": "independent"}},
        "encoding": {
         "x": {"field": "g", "type": "nominal", "scale": {"domain": ["PN VEH", "PN FLX"], "paddingInner": 0.183, "paddingOuter": 0.024}, "axis": {"title": null}},
         "y": {"field": "v", "type": "quantitative", "stack": null, "scale": {"domain": [0, 150], "nice": false}, "axis": {"title": "Center Time (s)", "values": [0, 50, 100, 150], "format": "d"}}
        },
        "layer": [
         {"data": {"name": "bars"}, "transform": [{"filter": "datum.m === 'ct10'"}], "mark": {"type": "bar", "stroke": "black", "strokeWidth": 2.5}, "encoding": {"xOffset": {"field": "t", "type": "nominal", "scale": {"domain": ["VEH", "TIA"], "paddingInner": 0.436, "paddingOuter": 0.308}}, "fill": {"field": "t", "type": "nominal", "scale": {"domain": ["TIA", "VEH"], "range": ["#b3b3b3", "#ffffff"]}, "legend": null}}},
         {"data": {"name": "bars"}, "transform": [{"filter": "datum.m === 'ct10'"}], "mark": {"type": "tick", "orient": "horizontal", "size": 90, "thickness": 2.5, "color": "black"}, "encoding": {"y": {"datum": 0}}},
         {"data": {"name": "pts"}, "transform": [{"filter": "datum.m === 'ct10'"}, {"window": [{"op": "row_number", "as": "rn"}], "groupby": ["g", "t"], "sort": [{"field": "v", "order": "descending"}]}, {"calculate": "(datum.t === 'VEH' ? -0.46 : 0.46) + (((datum.rn * 0.618034) % 1) - 0.5) * 0.55", "as": "jx"}], "mark": {"type": "point", "filled": true, "size": 55, "opacity": 1}, "encoding": {"xOffset": {"field": "jx", "type": "quantitative", "scale": {"domain": [-1, 1]}}, "shape": {"field": "t", "type": "nominal", "scale": {"domain": ["VEH", "TIA"], "range": ["square", "circle"]}}, "color": {"field": "t", "type": "nominal", "scale": {"domain": ["VEH", "TIA"], "range": ["#a6a6a6", "#000000"]}}}},
         {"data": {"name": "bars"}, "transform": [{"filter": "datum.m === 'ct10'"}, {"calculate": "datum.v - datum.sem", "as": "lo"}, {"calculate": "datum.v + datum.sem", "as": "hi"}], "mark": {"type": "rule", "color": "black", "strokeWidth": 2}, "encoding": {"xOffset": {"field": "t", "type": "nominal", "scale": {"domain": ["VEH", "TIA"], "paddingInner": 0.436, "paddingOuter": 0.308}}, "y": {"field": "lo", "type": "quantitative"}, "y2": {"field": "hi"}}},
         {"data": {"name": "bars"}, "transform": [{"filter": "datum.m === 'ct10'"}, {"calculate": "datum.v - datum.sem", "as": "lo"}, {"calculate": "datum.v + datum.sem", "as": "hi"}, {"fold": ["lo", "hi"], "as": ["k", "v"]}], "mark": {"type": "tick", "orient": "horizontal", "size": 12, "thickness": 2, "color": "black"}, "encoding": {"xOffset": {"field": "t", "type": "nominal", "scale": {"domain": ["VEH", "TIA"], "paddingInner": 0.436, "paddingOuter": 0.308}}}},
         {"data": {"name": "brk"}, "transform": [{"filter": "datum.m === 'ct10'"}, {"fold": ["left", "right"], "as": ["side", "v"]}, {"calculate": "datum.side === 'left' ? 'VEH' : 'TIA'", "as": "t"}], "mark": {"type": "rule", "color": "black", "strokeWidth": 1.8}, "encoding": {"xOffset": {"field": "t", "type": "nominal", "scale": {"domain": ["VEH", "TIA"], "paddingInner": 0.436, "paddingOuter": 0.308}}, "y2": {"field": "top"}}},
         {"data": {"name": "brk"}, "transform": [{"filter": "datum.m === 'ct10'"}, {"calculate": "datum.top", "as": "v"}], "mark": {"type": "tick", "orient": "horizontal", "size": 39, "thickness": 1.8, "color": "black"}, "encoding": {}},
         {"data": {"name": "brk"}, "transform": [{"filter": "datum.m === 'ct10'"}, {"calculate": "datum.top", "as": "v"}], "mark": {"type": "text", "fontSize": 26, "fontWeight": "bold", "baseline": "alphabetic", "dy": 1, "color": "black"}, "encoding": {"text": {"field": "label"}}}
        ]
       }
      ],
      "spacing": 64, "bounds": "flush",
      "title": {"text": "10 min", "anchor": "middle", "frame": "group", "dx": 94.5, "fontSize": 17, "fontWeight": "bold", "offset": 19},
      "resolve": {"scale": {"x": "independent", "y": "independent", "xOffset": "independent"}}
     },
     {
      "vconcat": [
       {
        "width": 195, "height": 195,
        "resolve": {"scale": {"xOffset": "independent"}},
        "encoding": {
         "x": {"field": "g", "type": "nominal", "scale": {"domain": ["PN VEH", "PN FLX"], "paddingInner": 0.183, "paddingOuter": 0.024}, "axis": {"title": null}},
         "y": {"field": "v", "type": "quantitative", "stack": null, "scale": {"domain": [0, 15000], "nice": false}, "axis": {"title": "Movement (cm)", "values": [0, 5000, 10000, 15000], "format": "d"}}
        },
        "layer": [
         {"data": {"name": "bars"}, "transform": [{"filter": "datum.m === 'mov60'"}], "mark": {"type": "bar", "stroke": "black", "strokeWidth": 2.5}, "encoding": {"xOffset": {"field": "t", "type": "nominal", "scale": {"domain": ["VEH", "TIA"], "paddingInner": 0.436, "paddingOuter": 0.308}}, "fill": {"field": "t", "type": "nominal", "scale": {"domain": ["TIA", "VEH"], "range": ["#b3b3b3", "#ffffff"]}, "legend": null}}},
         {"data": {"name": "bars"}, "transform": [{"filter": "datum.m === 'mov60'"}], "mark": {"type": "tick", "orient": "horizontal", "size": 90, "thickness": 2.5, "color": "black"}, "encoding": {"y": {"datum": 0}}},
         {"data": {"name": "pts"}, "transform": [{"filter": "datum.m === 'mov60'"}, {"window": [{"op": "row_number", "as": "rn"}], "groupby": ["g", "t"], "sort": [{"field": "v", "order": "descending"}]}, {"calculate": "(datum.t === 'VEH' ? -0.46 : 0.46) + (((datum.rn * 0.618034) % 1) - 0.5) * 0.55", "as": "jx"}], "mark": {"type": "point", "filled": true, "size": 55, "opacity": 1}, "encoding": {"xOffset": {"field": "jx", "type": "quantitative", "scale": {"domain": [-1, 1]}}, "shape": {"field": "t", "type": "nominal", "scale": {"domain": ["VEH", "TIA"], "range": ["square", "circle"]}, "legend": {"orient": "none", "legendX": 704.5, "legendY": 258, "padding": 0, "title": null, "labelFontSize": 18, "labelFontWeight": "normal", "symbolSize": 64, "rowPadding": 14, "labelOffset": 15}}, "color": {"field": "t", "type": "nominal", "scale": {"domain": ["VEH", "TIA"], "range": ["#a6a6a6", "#000000"]}, "legend": {"orient": "none", "legendX": 704.5, "legendY": 258, "padding": 0, "title": null, "labelFontSize": 18, "labelFontWeight": "normal", "symbolSize": 64, "rowPadding": 14, "labelOffset": 15}}}},
         {"data": {"name": "bars"}, "transform": [{"filter": "datum.m === 'mov60'"}, {"calculate": "datum.v - datum.sem", "as": "lo"}, {"calculate": "datum.v + datum.sem", "as": "hi"}], "mark": {"type": "rule", "color": "black", "strokeWidth": 2}, "encoding": {"xOffset": {"field": "t", "type": "nominal", "scale": {"domain": ["VEH", "TIA"], "paddingInner": 0.436, "paddingOuter": 0.308}}, "y": {"field": "lo", "type": "quantitative"}, "y2": {"field": "hi"}}},
         {"data": {"name": "bars"}, "transform": [{"filter": "datum.m === 'mov60'"}, {"calculate": "datum.v - datum.sem", "as": "lo"}, {"calculate": "datum.v + datum.sem", "as": "hi"}, {"fold": ["lo", "hi"], "as": ["k", "v"]}], "mark": {"type": "tick", "orient": "horizontal", "size": 12, "thickness": 2, "color": "black"}, "encoding": {"xOffset": {"field": "t", "type": "nominal", "scale": {"domain": ["VEH", "TIA"], "paddingInner": 0.436, "paddingOuter": 0.308}}}},
         {"data": {"name": "brk"}, "transform": [{"filter": "datum.m === 'mov60'"}, {"fold": ["left", "right"], "as": ["side", "v"]}, {"calculate": "datum.side === 'left' ? 'VEH' : 'TIA'", "as": "t"}], "mark": {"type": "rule", "color": "black", "strokeWidth": 1.8}, "encoding": {"xOffset": {"field": "t", "type": "nominal", "scale": {"domain": ["VEH", "TIA"], "paddingInner": 0.436, "paddingOuter": 0.308}}, "y2": {"field": "top"}}},
         {"data": {"name": "brk"}, "transform": [{"filter": "datum.m === 'mov60'"}, {"calculate": "datum.top", "as": "v"}], "mark": {"type": "tick", "orient": "horizontal", "size": 39, "thickness": 1.8, "color": "black"}, "encoding": {}},
         {"data": {"name": "brk"}, "transform": [{"filter": "datum.m === 'mov60'"}, {"calculate": "datum.top", "as": "v"}], "mark": {"type": "text", "fontSize": 26, "fontWeight": "bold", "baseline": "alphabetic", "dy": 1, "color": "black"}, "encoding": {"text": {"field": "label"}}}
        ]
       },
       {
        "width": 195, "height": 195,
        "resolve": {"scale": {"xOffset": "independent"}},
        "encoding": {
         "x": {"field": "g", "type": "nominal", "scale": {"domain": ["PN VEH", "PN FLX"], "paddingInner": 0.183, "paddingOuter": 0.024}, "axis": {"title": null}},
         "y": {"field": "v", "type": "quantitative", "stack": null, "scale": {"domain": [0, 1500], "nice": false}, "axis": {"title": "Rearing (# of events)", "values": [0, 500, 1000, 1500], "format": "d"}}
        },
        "layer": [
         {"data": {"name": "bars"}, "transform": [{"filter": "datum.m === 'rear60'"}], "mark": {"type": "bar", "stroke": "black", "strokeWidth": 2.5}, "encoding": {"xOffset": {"field": "t", "type": "nominal", "scale": {"domain": ["VEH", "TIA"], "paddingInner": 0.436, "paddingOuter": 0.308}}, "fill": {"field": "t", "type": "nominal", "scale": {"domain": ["TIA", "VEH"], "range": ["#b3b3b3", "#ffffff"]}, "legend": null}}},
         {"data": {"name": "bars"}, "transform": [{"filter": "datum.m === 'rear60'"}], "mark": {"type": "tick", "orient": "horizontal", "size": 90, "thickness": 2.5, "color": "black"}, "encoding": {"y": {"datum": 0}}},
         {"data": {"name": "pts"}, "transform": [{"filter": "datum.m === 'rear60'"}, {"window": [{"op": "row_number", "as": "rn"}], "groupby": ["g", "t"], "sort": [{"field": "v", "order": "descending"}]}, {"calculate": "(datum.t === 'VEH' ? -0.46 : 0.46) + (((datum.rn * 0.618034) % 1) - 0.5) * 0.55", "as": "jx"}], "mark": {"type": "point", "filled": true, "size": 55, "opacity": 1}, "encoding": {"xOffset": {"field": "jx", "type": "quantitative", "scale": {"domain": [-1, 1]}}, "shape": {"field": "t", "type": "nominal", "scale": {"domain": ["VEH", "TIA"], "range": ["square", "circle"]}}, "color": {"field": "t", "type": "nominal", "scale": {"domain": ["VEH", "TIA"], "range": ["#a6a6a6", "#000000"]}}}},
         {"data": {"name": "bars"}, "transform": [{"filter": "datum.m === 'rear60'"}, {"calculate": "datum.v - datum.sem", "as": "lo"}, {"calculate": "datum.v + datum.sem", "as": "hi"}], "mark": {"type": "rule", "color": "black", "strokeWidth": 2}, "encoding": {"xOffset": {"field": "t", "type": "nominal", "scale": {"domain": ["VEH", "TIA"], "paddingInner": 0.436, "paddingOuter": 0.308}}, "y": {"field": "lo", "type": "quantitative"}, "y2": {"field": "hi"}}},
         {"data": {"name": "bars"}, "transform": [{"filter": "datum.m === 'rear60'"}, {"calculate": "datum.v - datum.sem", "as": "lo"}, {"calculate": "datum.v + datum.sem", "as": "hi"}, {"fold": ["lo", "hi"], "as": ["k", "v"]}], "mark": {"type": "tick", "orient": "horizontal", "size": 12, "thickness": 2, "color": "black"}, "encoding": {"xOffset": {"field": "t", "type": "nominal", "scale": {"domain": ["VEH", "TIA"], "paddingInner": 0.436, "paddingOuter": 0.308}}}},
         {"data": {"name": "brk"}, "transform": [{"filter": "datum.m === 'rear60'"}, {"fold": ["left", "right"], "as": ["side", "v"]}, {"calculate": "datum.side === 'left' ? 'VEH' : 'TIA'", "as": "t"}], "mark": {"type": "rule", "color": "black", "strokeWidth": 1.8}, "encoding": {"xOffset": {"field": "t", "type": "nominal", "scale": {"domain": ["VEH", "TIA"], "paddingInner": 0.436, "paddingOuter": 0.308}}, "y2": {"field": "top"}}},
         {"data": {"name": "brk"}, "transform": [{"filter": "datum.m === 'rear60'"}, {"calculate": "datum.top", "as": "v"}], "mark": {"type": "tick", "orient": "horizontal", "size": 39, "thickness": 1.8, "color": "black"}, "encoding": {}},
         {"data": {"name": "brk"}, "transform": [{"filter": "datum.m === 'rear60'"}, {"calculate": "datum.top", "as": "v"}], "mark": {"type": "text", "fontSize": 26, "fontWeight": "bold", "baseline": "alphabetic", "dy": 1, "color": "black"}, "encoding": {"text": {"field": "label"}}}
        ]
       },
       {
        "width": 195, "height": 195,
        "resolve": {"scale": {"xOffset": "independent"}},
        "encoding": {
         "x": {"field": "g", "type": "nominal", "scale": {"domain": ["PN VEH", "PN FLX"], "paddingInner": 0.183, "paddingOuter": 0.024}, "axis": {"title": null}},
         "y": {"field": "v", "type": "quantitative", "stack": null, "scale": {"domain": [0, 1500], "nice": false}, "axis": {"title": "Center Time (s)", "values": [0, 500, 1000, 1500], "format": "d"}}
        },
        "layer": [
         {"data": {"name": "bars"}, "transform": [{"filter": "datum.m === 'ct60'"}], "mark": {"type": "bar", "stroke": "black", "strokeWidth": 2.5}, "encoding": {"xOffset": {"field": "t", "type": "nominal", "scale": {"domain": ["VEH", "TIA"], "paddingInner": 0.436, "paddingOuter": 0.308}}, "fill": {"field": "t", "type": "nominal", "scale": {"domain": ["TIA", "VEH"], "range": ["#b3b3b3", "#ffffff"]}, "legend": null}}},
         {"data": {"name": "bars"}, "transform": [{"filter": "datum.m === 'ct60'"}], "mark": {"type": "tick", "orient": "horizontal", "size": 90, "thickness": 2.5, "color": "black"}, "encoding": {"y": {"datum": 0}}},
         {"data": {"name": "pts"}, "transform": [{"filter": "datum.m === 'ct60'"}, {"window": [{"op": "row_number", "as": "rn"}], "groupby": ["g", "t"], "sort": [{"field": "v", "order": "descending"}]}, {"calculate": "(datum.t === 'VEH' ? -0.46 : 0.46) + (((datum.rn * 0.618034) % 1) - 0.5) * 0.55", "as": "jx"}], "mark": {"type": "point", "filled": true, "size": 55, "opacity": 1}, "encoding": {"xOffset": {"field": "jx", "type": "quantitative", "scale": {"domain": [-1, 1]}}, "shape": {"field": "t", "type": "nominal", "scale": {"domain": ["VEH", "TIA"], "range": ["square", "circle"]}}, "color": {"field": "t", "type": "nominal", "scale": {"domain": ["VEH", "TIA"], "range": ["#a6a6a6", "#000000"]}}}},
         {"data": {"name": "bars"}, "transform": [{"filter": "datum.m === 'ct60'"}, {"calculate": "datum.v - datum.sem", "as": "lo"}, {"calculate": "datum.v + datum.sem", "as": "hi"}], "mark": {"type": "rule", "color": "black", "strokeWidth": 2}, "encoding": {"xOffset": {"field": "t", "type": "nominal", "scale": {"domain": ["VEH", "TIA"], "paddingInner": 0.436, "paddingOuter": 0.308}}, "y": {"field": "lo", "type": "quantitative"}, "y2": {"field": "hi"}}},
         {"data": {"name": "bars"}, "transform": [{"filter": "datum.m === 'ct60'"}, {"calculate": "datum.v - datum.sem", "as": "lo"}, {"calculate": "datum.v + datum.sem", "as": "hi"}, {"fold": ["lo", "hi"], "as": ["k", "v"]}], "mark": {"type": "tick", "orient": "horizontal", "size": 12, "thickness": 2, "color": "black"}, "encoding": {"xOffset": {"field": "t", "type": "nominal", "scale": {"domain": ["VEH", "TIA"], "paddingInner": 0.436, "paddingOuter": 0.308}}}},
         {"data": {"name": "brk"}, "transform": [{"filter": "datum.m === 'ct60'"}, {"fold": ["left", "right"], "as": ["side", "v"]}, {"calculate": "datum.side === 'left' ? 'VEH' : 'TIA'", "as": "t"}], "mark": {"type": "rule", "color": "black", "strokeWidth": 1.8}, "encoding": {"xOffset": {"field": "t", "type": "nominal", "scale": {"domain": ["VEH", "TIA"], "paddingInner": 0.436, "paddingOuter": 0.308}}, "y2": {"field": "top"}}},
         {"data": {"name": "brk"}, "transform": [{"filter": "datum.m === 'ct60'"}, {"calculate": "datum.top", "as": "v"}], "mark": {"type": "tick", "orient": "horizontal", "size": 39, "thickness": 1.8, "color": "black"}, "encoding": {}},
         {"data": {"name": "brk"}, "transform": [{"filter": "datum.m === 'ct60'"}, {"calculate": "datum.top", "as": "v"}], "mark": {"type": "text", "fontSize": 26, "fontWeight": "bold", "baseline": "alphabetic", "dy": 1, "color": "black"}, "encoding": {"text": {"field": "label"}}}
        ]
       }
      ],
      "spacing": 64, "bounds": "flush",
      "title": {"text": "60 min", "anchor": "middle", "frame": "group", "dx": 113.5, "fontSize": 17, "fontWeight": "bold", "offset": 34},
      "resolve": {"scale": {"x": "independent", "y": "independent", "xOffset": "independent"}}
     }
    ],
    "spacing": 368, "bounds": "flush",
    "resolve": {"scale": {"x": "independent", "y": "independent", "xOffset": "independent"}}
   }
  ],
  "spacing": 0, "bounds": "flush",
  "resolve": {"scale": {"x": "independent", "y": "independent", "xOffset": "independent"}}
 }
],
"spacing": 101,
"bounds": "flush",
"resolve": {"scale": {"x": "independent", "y": "independent", "xOffset": "independent"}}
}
